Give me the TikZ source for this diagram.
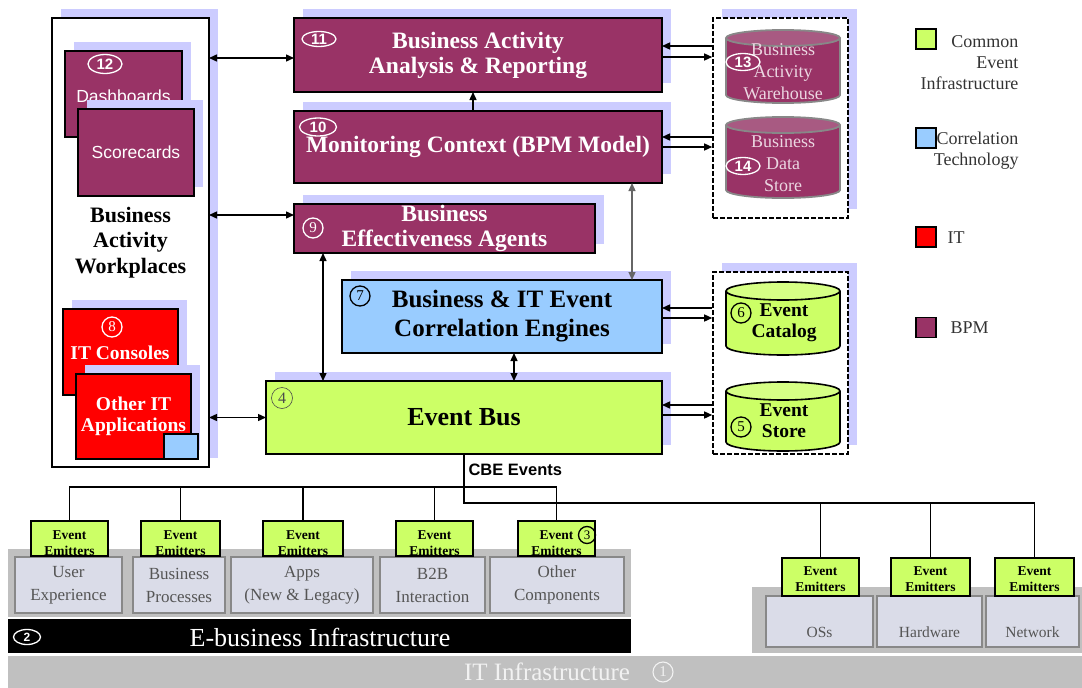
\documentclass[tikz,border=0pt]{standalone}
\usepackage{fontspec}
\setmainfont{Liberation Serif}
\setsansfont{Liberation Sans}
\usetikzlibrary{arrows.meta,shadows,shapes.geometric,calc}

\definecolor{bpm}{HTML}{993366}
\definecolor{bpmtop}{HTML}{A85A82}
\definecolor{bpmtext}{HTML}{EBD6E1}
\definecolor{lav}{HTML}{CCCCFF}
\definecolor{cei}{HTML}{CCFF66}
\definecolor{corr}{HTML}{99CCFF}
\definecolor{itred}{HTML}{FF0000}
\definecolor{pale}{HTML}{DADCE8}
\definecolor{paleedge}{HTML}{888888}
\definecolor{band}{HTML}{C0C0C0}
\definecolor{legtext}{HTML}{333333}
\definecolor{comptext}{HTML}{555555}

\newcommand\fsz[2]{\fontsize{#1pt}{#2pt}\selectfont}

\tikzset{
  box/.style={draw=black, line width=1.6pt, inner sep=0pt, outer sep=0pt, align=center},
  lavshadow/.style={general shadow={fill=lav, shadow xshift=9pt, shadow yshift=9pt}},
  bpmbox/.style={box, lavshadow, fill=bpm, text=white, font=\bfseries\fsz{23.5}{25}},
  circw/.style={circle, draw=white, line width=1.3pt, text=white, inner sep=0pt, minimum size=20pt, font=\fsz{15}{15}},
  circb/.style={circle, draw=black, line width=1.3pt, text=black, inner sep=0pt, minimum size=20pt, font=\fsz{15}{15}},
  twodig/.style={ellipse, draw=white, line width=1.3pt, text=white, inner sep=0pt, minimum width=34pt, minimum height=17pt, font=\sffamily\bfseries\fsz{15}{15}},
  dashedbox/.style={draw=black, line width=1.6pt, dash pattern=on 5pt off 2pt, fill=white, lavshadow, inner sep=0pt},
  cyltext/.style={align=center, text=bpmtext, font=\fsz{18}{22}},
  greentext/.style={align=center, text=black, font=\bfseries\fsz{19.5}{20.5}},
  arr/.style={line width=1.4pt},
  wire/.style={line width=1.7pt},
  legsq/.style={draw=black, line width=1.5pt, minimum size=20pt, inner sep=0pt},
  legtxt/.style={text=legtext, font=\fsz{18}{21}},
  emit/.style={draw=black, line width=1.6pt, fill=cei, inner sep=0pt, minimum width=77pt},
  emittxt/.style={align=center, font=\bfseries\fsz{13.5}{16}},
  comp/.style={draw=paleedge, line width=1.8pt, fill=pale, inner sep=0pt, align=center, text=comptext, font=\fsz{17}{23}},
  >={Triangle[length=8pt,width=7pt]}
}

\begin{document}
\begin{tikzpicture}[x=1pt,y=-1pt]
\useasboundingbox (0,0) rectangle (1082,688);

% ---------- workplaces column ----------
\node[box, lavshadow, fill=white, minimum width=157pt, minimum height=449pt,
      font=\bfseries\fsz{22}{25.5}] (wp) at (130.5,242.5) {Business\\Activity\\Workplaces};

\node[box, lavshadow, fill=bpm, minimum width=117pt, minimum height=86pt] (dash) at (123.5,94) {};
\node[text=white, font=\sffamily\fsz{17.5}{20}] (dashlbl) at (123.5,96) {Dashboards};
\node[twodig, minimum height=19pt] (n12) at (105,64) {12};

\node[box, lavshadow, fill=bpm, text=white, font=\sffamily\fsz{17.5}{20},
      minimum width=116pt, minimum height=87pt] (score) at (136,152.5) {Scorecards};

\node[box, lavshadow, fill=itred, minimum width=115pt, minimum height=86pt] (itc) at (120.5,352) {};
\node[text=white, font=\bfseries\fsz{19.5}{21}] (itclbl) at (120,353) {IT Consoles};
\node[circw] (n8) at (112,327) {8};

\node[box, lavshadow, fill=itred, text=white, font=\bfseries\fsz{19.5}{21},
      minimum width=115pt, minimum height=85pt] (oit) at (133.5,416.5) {Other IT\\Applications};
\node[box, fill=corr, minimum width=34pt, minimum height=25pt] (oitc) at (181,446.5) {};

% ---------- central stack ----------
\node[bpmbox, minimum width=368pt, minimum height=74pt] (b11) at (478,55)
      {Business Activity\\Analysis \& Reporting};
\node[twodig, minimum height=15pt] (n11) at (319,39) {11};

\node[bpmbox, minimum width=368pt, minimum height=72pt] (b10) at (478,147)
      {\raisebox{-3pt}{Monitoring Context (BPM Model)}};
\node[twodig, minimum width=37pt, minimum height=18pt] (n10) at (318,127) {10};

\node[bpmbox, minimum width=301pt, minimum height=49pt] (b9) at (444.5,228.5)
      {Business\\Effectiveness Agents};
\node[circw] (n9) at (313,228) {9};

\node[box, lavshadow, fill=corr, font=\bfseries\fsz{25}{29},
      minimum width=320pt, minimum height=73pt] (b7) at (502,316.5)
      {Business \& IT Event\\Correlation Engines};
\node[circb] (n7) at (360,296) {7};

\node[box, lavshadow, fill=cei, font=\bfseries\fsz{26}{28},
      minimum width=396pt, minimum height=73pt] (bus) at (464,417.5) {Event Bus};
\node[circle, draw=black!70, line width=0.6pt, text=black!70, inner sep=0pt,
      minimum size=21pt, font=\fsz{16}{16}] (n4) at (282,398) {4};

% ---------- stores ----------
\node[dashedbox, minimum width=135pt, minimum height=200pt] (dc1) at (780.5,118) {};
\node[dashedbox, minimum width=135pt, minimum height=182pt] (dc2) at (780.5,363) {};

% purple cylinders
\foreach \yt/\yb in {38/95, 125/190}{
  \fill[bpm] (726,\yt) rectangle (840,\yb);
  \fill[bpm] (783,\yb) ellipse [x radius=57pt, y radius=8pt];
  \draw[paleedge, line width=1.8pt] (726,\yt) -- (726,\yb)
      arc[start angle=180, end angle=360, x radius=57pt, y radius=8pt] -- (840,\yt);
  \draw[paleedge, line width=1.8pt, fill=bpmtop] (783,\yt) ellipse [x radius=57pt, y radius=8pt];
}
% green cylinders
\foreach \yt/\yb in {291/346, 391/442}{
  \fill[cei] (726,\yt) rectangle (840,\yb);
  \fill[cei] (783,\yb) ellipse [x radius=57pt, y radius=9pt];
  \draw[black, line width=1.6pt] (726,\yt) -- (726,\yb)
      arc[start angle=180, end angle=360, x radius=57pt, y radius=9pt] -- (840,\yt);
  \draw[black, line width=1.6pt, fill=cei!80!white] (783,\yt) ellipse [x radius=57pt, y radius=9pt];
}
\node[cyltext] (baw) at (783,72) {Business\\Activity\\Warehouse};
\node[twodig] (n13) at (743,62) {13};
\node[cyltext] (bds) at (783,163.5) {Business\\Data\\Store};
\node[twodig] (n14) at (743,166) {14};
\node[greentext] (ecat) at (784,323) {Event\\Catalog};
\node[circb] (n6) at (741,313) {6};
\node[greentext] (estore) at (784,420.5) {Event\\Store};
\node[circb] (n5) at (741,427) {5};

% ---------- connectors, upper part ----------
\draw[arr, <->] (wp.east |- 0,58) -- ([yshift=-3pt]b11.west);
\draw[arr, <->] (wp.east |- 0,215) -- ([yshift=13.5pt]b9.west);
\draw[arr, <->] (wp.east |- bus.west) -- (bus.west);
\draw[arr, ->] ([xshift=-5pt]b10.north) -- ([xshift=-5pt]b11.south);
\draw[line width=1.2pt, black!60, <->] ([xshift=-30pt]b10.south east) -- ([xshift=-30pt]b7.north east);
\draw[arr, <->] ([xshift=29pt]b9.south west) -- ([xshift=29pt]b9.south west |- bus.north);
\draw[arr, <->] ([xshift=12pt]b7.south) -- ([xshift=12pt]b7.south |- bus.north);

\foreach \b/\d/\yin/\yout in {b11/dc1/9/-2, b10/dc1/10/0, b7/dc2/8.5/-1.5, bus/dc2/12.5/2.5}{
  \coordinate (pin) at ([yshift=\yin pt]\b.east);
  \coordinate (pout) at ([yshift=\yout pt]\b.east);
  \draw[arr, ->] (pin -| \d.west) -- (pin);
  \draw[arr, ->] (pout) -- (pout -| \d.west);
}

% ---------- legend ----------
\node[legsq, fill=cei] (lg1) at (926,39) {};
\node[legtxt, align=right, anchor=east] (lt1) at (1022,62.5) {Common\\Event\\Infrastructure};
\node[legsq, fill=corr] (lg2) at (926,138) {};
\node[legtxt, align=right, anchor=east] (lt2) at (1022,150.5) {Correlation\\Technology};
\node[legsq, fill=itred] (lg3) at (926,237) {};
\node[legtxt, anchor=west] (lt3) at (944,238) {IT};
\node[legsq, fill=bpm] (lg4) at (926,327.5) {};
\node[legtxt, anchor=west] (lt4) at (947,328) {BPM};

% ---------- infrastructure layers ----------
\fill[band] (8,549) rectangle (631,617);
\fill[black] (8,619) rectangle (631,653);
\fill[band] (752,587) rectangle (1082,653);
\fill[band] (8,656) rectangle (1082,688);

\node[text=white, font=\fsz{26}{26}] (ebi) at (320,637) {E-business Infrastructure};
\node[ellipse, draw=white, line width=1.3pt, text=white, inner sep=0pt, minimum width=27pt,
      minimum height=15pt, font=\sffamily\bfseries\fsz{12}{12}] (n2) at (27,637) {2};
\node[text=black!5, font=\fsz{25}{25}] (iti) at (547,672) {IT Infrastructure};
\node[circle, draw=black!5, line width=1.1pt, text=black!5, inner sep=0pt, minimum size=20pt,
      font=\fsz{15}{15}] (n1) at (663,672) {1};

% left components
\node[comp, minimum width=107pt, minimum height=56pt] (cU) at (68.5,585) {User\\Experience};
\node[comp, minimum width=92pt,  minimum height=56pt] (cB) at (179,585) {Business\\Processes};
\node[comp, minimum width=142pt, minimum height=56pt] (cA) at (302,585) {Apps\\(New \& Legacy)};
\node[comp, minimum width=105pt, minimum height=56pt] (cX) at (432.5,585) {B2B\\Interaction};
\node[comp, minimum width=134pt, minimum height=56pt] (cO) at (557,585) {Other\\Components};

% right components
\node[comp, minimum width=107pt, minimum height=51pt] (cOS) at (819.5,621.5) {};
\node[comp, minimum width=105pt, minimum height=51pt] (cHW) at (929.5,621.5) {};
\node[comp, minimum width=93pt,  minimum height=51pt] (cNW) at (1032.5,621.5) {};
\node[text=comptext, font=\fsz{15.5}{16}] (tOS) at (819.5,632) {OSs};
\node[text=comptext, font=\fsz{15.5}{16}] (tHW) at (929.5,632) {Hardware};
\node[text=comptext, font=\fsz{15.5}{16}] (tNW) at (1032.5,632) {Network};

% emitters
\foreach \n/\x/\w in {eU/69.5/77, eB/180.5/79, eA/303/80, eX/434.5/77, eO/556.5/77}{
  \node[emit, minimum width=\w pt, minimum height=35pt] (\n) at (\x,538.5) {};
  \node[emittxt] (\n t) at (\x,543) {Event\\Emitters};
}
\foreach \n/\x/\w in {eOS/820.5/77, eHW/930.5/79, eNW/1034.5/79}{
  \node[emit, minimum width=\w pt, minimum height=38pt] (\n) at (\x,577) {};
  \node[emittxt] (\n t) at (\x,579) {Event\\Emitters};
}
\node[circb, minimum size=17pt, font=\fsz{13}{13}] (n3) at (587,535) {3};

% ---------- CBE event wiring ----------
\coordinate (lbus) at (0,487);
\coordinate (rbus) at (0,503);
\draw[wire] (eU.north) |- (eO.north |- lbus) -- (eO.north);
\foreach \n in {eB, eA, eX}{ \draw[wire] (\n.north) -- (\n.north |- lbus); }
\draw[wire] (bus.south) -- (bus.south |- rbus) -| (eNW.north);
\foreach \n in {eOS, eHW}{ \draw[wire] (\n.north) -- (\n.north |- rbus); }
\node[anchor=west, font=\sffamily\bfseries\fsz{16.5}{18}] (cbe) at (465,470) {CBE Events};

\end{tikzpicture}
\end{document}
